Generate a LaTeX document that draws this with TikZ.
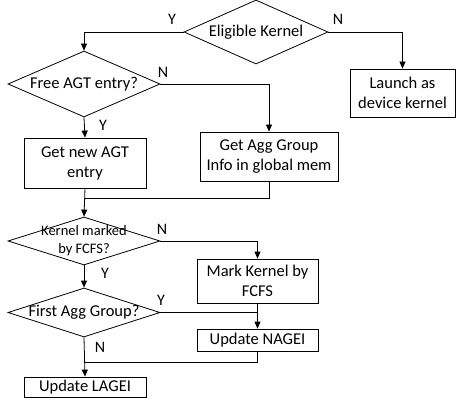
\documentclass[tikz,border=0pt]{standalone}
\usepackage{fontspec}
\setmainfont{Carlito}
\usetikzlibrary{shapes.geometric,arrows.meta}
\begin{document}
\begin{tikzpicture}[x=1pt,y=-1pt,
  line width=0.8pt,
  txt/.style={font=\fontsize{16.5}{20}\selectfont},
  dec/.style={diamond,draw,inner sep=0pt,minimum width=152pt},
  procbox/.style={rectangle,draw,inner sep=0pt,align=center,font=\fontsize{16.5}{20}\selectfont},
  lbl/.style={inner sep=0pt,font=\fontsize{16}{18}\selectfont},
  arr/.style={-{Triangle[length=7pt,width=6pt]}}
]
\useasboundingbox (0,0) rectangle (456,404);

\node[dec,minimum width=144pt,minimum height=64pt,
  label={[txt]center:Eligible Kernel}] (d1) at (256,32) {};
\node[procbox,minimum width=105pt,minimum height=48pt] (launch) at (402.5,93) {Launch as\\device kernel};

\node[dec,minimum height=66pt,
  label={[txt]center:Free AGT entry?}] (d2) at (84,84) {};
\node[procbox,minimum width=122pt,minimum height=50pt] (newagt) at (85,163) {Get new AGT\\entry};
\node[procbox,minimum width=138pt,minimum height=49pt] (agg) at (269,156.5) {Get Agg Group\\Info in global mem};

\node[dec,minimum height=48pt,
  label={[align=center,font=\fontsize{14.5}{18}\selectfont]center:{Kernel marked\\by FCFS?}}] (d3) at (84,241) {};
\node[procbox,minimum width=121pt,minimum height=44pt] (mark) at (257.5,281) {Mark Kernel by\\FCFS};

\node[dec,minimum height=49pt,
  label={[txt]center:First Agg Group?}] (d4) at (84,312.5) {};
\node[procbox,minimum width=121pt,minimum height=22pt] (nagei) at (257.5,340) {Update NAGEI};
\node[procbox,minimum width=122pt,minimum height=20pt] (lagei) at (85,387) {Update LAGEI};

\coordinate (j1) at (85,198);
\coordinate (j2) at (257.5,312.5);
\coordinate (j3) at (85,362);

\draw[arr] (d1.west) -| (d2.north);
\draw[arr] (d1.east) -| (launch.north);
\draw[arr] (d2.east) -| (agg.north);
\draw[arr] (d2.south) -- (newagt.north);
\draw[arr] (newagt.south) -- (d3.north);
\draw (agg.south) |- (j1);
\draw[arr] (d3.east) -| (mark.north);
\draw[arr] (d3.south) -- (d4.north);
\draw (d4.east) -- (j2);
\draw[arr] (mark.south) -- (nagei.north);
\draw[arr] (d4.south) -- (lagei.north);
\draw (nagei.south) |- (j3);

\node[lbl] (y1) at (172,19) {Y};
\node[lbl] (n1) at (338,19) {N};
\node[lbl] (n2) at (163,72) {N};
\node[lbl] (y2) at (103,125) {Y};
\node[lbl] (n3) at (162,229) {N};
\node[lbl] (y3) at (105,273) {Y};
\node[lbl] (y4) at (161,300) {Y};
\node[lbl] (n4) at (100,347) {N};
\end{tikzpicture}
\end{document}
